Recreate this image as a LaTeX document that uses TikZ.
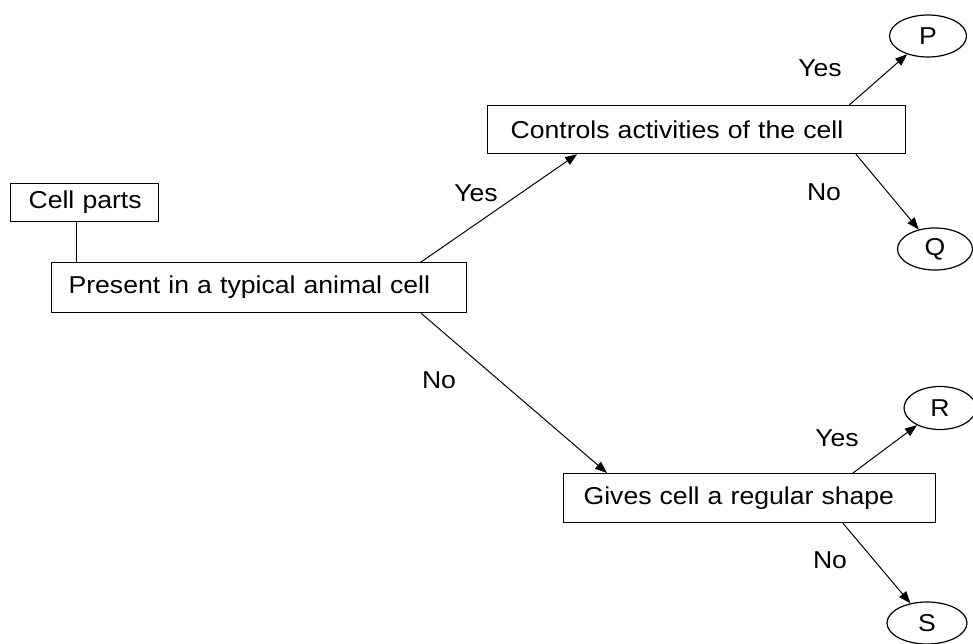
\documentclass[tikz,border=0pt]{standalone}
\usepackage{fontspec}
\setmainfont[FakeStretch=1.09]{Liberation Sans}
\usetikzlibrary{arrows.meta,shapes.geometric,calc}
\begin{document}
\begin{tikzpicture}[x=1pt,y=-1pt,
  every node/.style={font=\fontsize{24.4}{28}\selectfont},
  box/.style={draw,line width=1.2pt,anchor=north west,align=left,inner ysep=0pt},
  leaf/.style={draw,ellipse,line width=1.2pt,inner sep=0pt},
  lbl/.style={inner sep=0pt},
  conn/.style={line width=1pt},
  arr/.style={conn,-{Triangle[length=12pt,width=9pt]}}]
\useasboundingbox (0,0) rectangle (973,644);
\node[box,inner xsep=14pt,text width=120pt,minimum height=38pt] (cp) at (10,183) {\hspace*{4pt}Cell parts};
\node[box,inner xsep=17pt,text width=381pt,minimum height=50pt] (pres) at (51,262) {Present in a typical animal cell};
\node[box,inner xsep=23pt,text width=372pt,minimum height=48pt] (ctrl) at (487,105) {Controls activities of the cell};
\node[box,inner xsep=20pt,text width=332pt,minimum height=49pt] (give) at (563,473) {Gives cell a regular shape};
\node[leaf,minimum width=77pt,minimum height=42pt] (P) at (928,36) {P};
\node[leaf,minimum width=75pt,minimum height=42pt] (Q) at (935,249) {Q};
\node[leaf,minimum width=72pt,minimum height=43pt] (R) at (940,408) {R};
\node[leaf,minimum width=80pt,minimum height=42pt] (S) at (927,623) {S};
% connectors
\coordinate (cpfoot) at ($(cp.south west)!0.446!(cp.south east)$);
\draw[conn] (cpfoot) -- (cpfoot |- pres.north);
\draw[arr] ($(pres.north west)!0.889!(pres.north east)$) -- ($(ctrl.south west)!0.215!(ctrl.south east)$);
\draw[arr] ($(pres.south west)!0.889!(pres.south east)$) -- ($(give.north west)!0.118!(give.north east)$);
\draw[arr] ($(ctrl.north west)!0.864!(ctrl.north east)$) -- (P);
\draw[arr] ($(ctrl.south west)!0.880!(ctrl.south east)$) -- (Q);
\draw[arr] ($(give.north west)!0.777!(give.north east)$) -- (R);
\draw[arr] ($(give.south west)!0.75!(give.south east)$) -- (S);
% labels
\node[lbl] (y1) at (476,193) {Yes};
\node[lbl] (n1) at (439,380) {No};
\node[lbl] (y2) at (820,68) {Yes};
\node[lbl] (n2) at (824,192) {No};
\node[lbl] (y3) at (837,438) {Yes};
\node[lbl] (n3) at (830,560) {No};
\end{tikzpicture}
\end{document}
